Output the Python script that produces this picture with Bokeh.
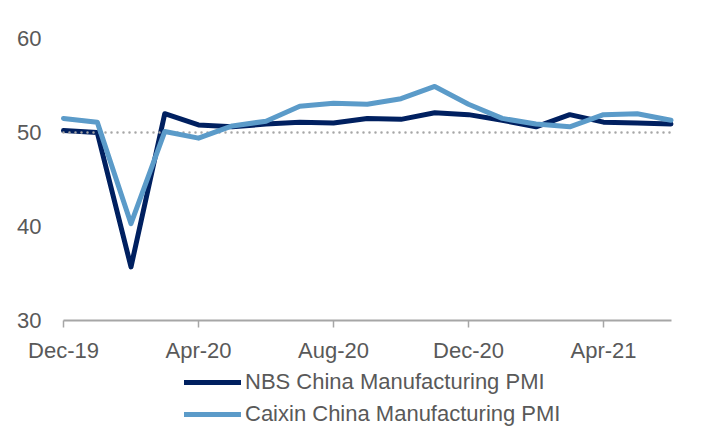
from bokeh.plotting import figure
from bokeh.models import FixedTicker, Legend, LegendItem
from bokeh.embed import file_html
from bokeh.resources import INLINE

months = ["Dec-19", "Jan-20", "Feb-20", "Mar-20", "Apr-20", "May-20", "Jun-20",
          "Jul-20", "Aug-20", "Sep-20", "Oct-20", "Nov-20", "Dec-20",
          "Jan-21", "Feb-21", "Mar-21", "Apr-21", "May-21", "Jun-21"]
nbs = [50.2, 50.0, 35.7, 52.0, 50.8, 50.6, 50.9, 51.1, 51.0, 51.5, 51.4, 52.1,
       51.9, 51.3, 50.6, 51.9, 51.1, 51.0, 50.9]
caixin = [51.5, 51.1, 40.3, 50.1, 49.4, 50.7, 51.2, 52.8, 53.1, 53.0, 53.6, 54.9,
          53.0, 51.5, 50.9, 50.6, 51.9, 52.0, 51.3]
threshold = 50
y_min, y_max = 30, 60
y_ticks = [30, 40, 50, 60]
x_tick_labels = {0: "Dec-19", 4: "Apr-20", 8: "Aug-20", 12: "Dec-20", 16: "Apr-21"}

x = list(range(len(months)))
x_last = len(months) - 1

FONT = "Liberation Sans"
TXT = "#595959"

W, H = 700, 430
# plot region in pixels: x 63..670.5, y 38..320
PX_PER_MONTH = (670.5 - 63) / x_last
PX_PER_UNIT = 282 / (y_max - y_min)
x_left = 0 - 63 / PX_PER_MONTH
x_right = x_last + (W - 670.5) / PX_PER_MONTH
y_top = y_max + 38 / PX_PER_UNIT
y_bottom = y_min - (H - 320) / PX_PER_UNIT

p = figure(width=W, height=H, output_backend="svg", toolbar_location=None,
           x_range=(x_left, x_right), y_range=(y_bottom, y_top),
           min_border_left=0, min_border_right=0, min_border_top=0,
           min_border_bottom=0)
p.outline_line_color = None
p.xgrid.visible = False
p.ygrid.visible = False
p.background_fill_color = "white"
p.border_fill_color = "white"

r_nbs = p.line(x, nbs, line_color="#002060", line_width=5,
               line_join="round", line_cap="round")
p.line(x, [threshold] * len(x), line_color="#a6a6a6", line_width=2.5,
       line_dash="0 6", line_cap="round")
r_cx = p.line(x, caixin, line_color="#5b9bc9", line_width=5,
              line_join="round", line_cap="round")

# y axis, pinned at the first month
p.yaxis.fixed_location = 0
p.yaxis.ticker = FixedTicker(ticks=y_ticks)
p.yaxis.axis_line_color = None
p.yaxis.major_tick_line_color = None
p.yaxis.minor_tick_line_color = None
p.yaxis.major_label_standoff = 16
p.yaxis.major_label_text_font = FONT
p.yaxis.major_label_text_font_size = "22px"
p.yaxis.major_label_text_color = TXT

# x axis, pinned at the 30 level
p.xaxis.fixed_location = y_min
p.xaxis.bounds = (0, x_last)
p.xaxis.ticker = FixedTicker(ticks=list(x_tick_labels.keys()))
p.xaxis.major_label_overrides = x_tick_labels
p.xaxis.axis_line_color = "#a6a6a6"
p.xaxis.axis_line_width = 2
p.xaxis.major_tick_line_color = "#a6a6a6"
p.xaxis.major_tick_line_width = 1.5
p.xaxis.major_tick_out = 7
p.xaxis.major_tick_in = 0
p.xaxis.minor_tick_line_color = None
p.xaxis.major_label_standoff = 10
p.xaxis.major_label_text_font = FONT
p.xaxis.major_label_text_font_size = "22px"
p.xaxis.major_label_text_color = TXT

legend = Legend(items=[LegendItem(label="NBS China Manufacturing PMI", renderers=[r_nbs]),
                       LegendItem(label="Caixin China Manufacturing PMI", renderers=[r_cx])],
                location=(184, 3), orientation="vertical",
                glyph_width=57, glyph_height=26, label_height=26, spacing=6,
                label_standoff=4, padding=0, margin=0,
                border_line_color=None, background_fill_alpha=0,
                label_text_font=FONT, label_text_font_size="22px",
                label_text_color=TXT)
p.add_layout(legend)

open("out.html", "w").write(file_html(p, INLINE))
